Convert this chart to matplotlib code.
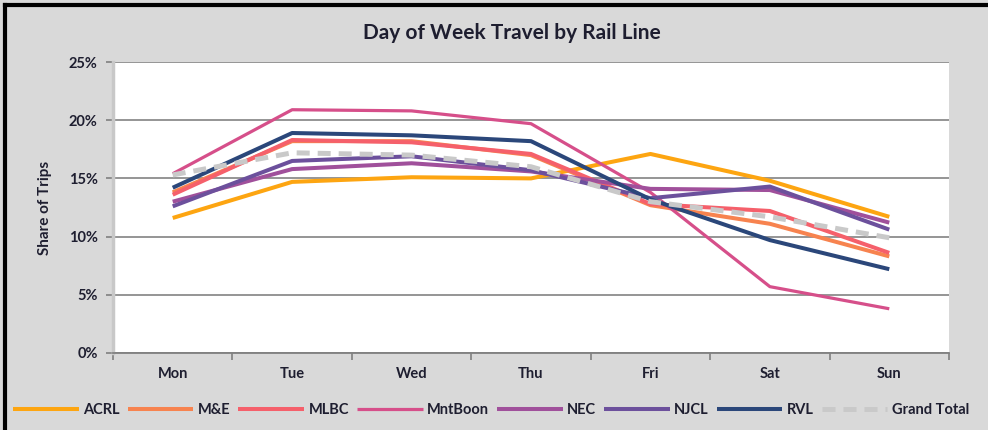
import matplotlib
matplotlib.use("Agg")
import matplotlib.pyplot as plt
from matplotlib.lines import Line2D
from matplotlib.ticker import PercentFormatter

days = ["Mon", "Tue", "Wed", "Thu", "Fri", "Sat", "Sun"]

acrl = [11.6, 14.7, 15.1, 15.0, 17.1, 14.8, 11.7]
m_e = [13.8, 18.2, 18.2, 17.0, 12.7, 11.1, 8.3]
mlbc = [13.6, 18.3, 18.1, 17.1, 12.8, 12.2, 8.6]
mntboon = [15.4, 20.9, 20.8, 19.7, 13.8, 5.7, 3.8]
nec = [13.0, 15.8, 16.3, 15.6, 14.1, 14.0, 11.2]
njcl = [12.6, 16.5, 16.9, 15.7, 13.3, 14.3, 10.6]
rvl = [14.2, 18.9, 18.7, 18.2, 13.2, 9.7, 7.2]
grand_total = [15.3, 17.2, 17.0, 16.0, 13.0, 11.7, 9.9]

series = [
    ("ACRL", acrl, "#FDA511"),
    ("M&E", m_e, "#F7834F"),
    ("MLBC", mlbc, "#F5606B"),
    ("MntBoon", mntboon, "#D64F8A"),
    ("NEC", nec, "#A0509B"),
    ("NJCL", njcl, "#6C509C"),
    ("RVL", rvl, "#2B477A"),
]

plt.rcParams['font.family'] = ['Lato', 'DejaVu Sans']
txt = "#1e1e30"

fig = plt.figure(figsize=(9.88, 4.30), dpi=100, facecolor="#d9d9d9")
ax = fig.add_axes([113 / 988, 1 - 353 / 430, 836 / 988, 291 / 430])
ax.set_facecolor("white")

x = list(range(len(days)))
for name, vals, col in series:
    lw = 2.3 if name == "MntBoon" else 2.9
    ax.plot(x, vals, color=col, lw=lw, label=name, solid_capstyle="butt")
ax.plot(x, grand_total, color="#C9C9C9", lw=3.6, ls=(0, (2.6, 1.6)), label="Grand Total")

ax.set_xlim(-0.5, 6.5)
ax.set_ylim(0, 25)
ax.set_yticks(range(0, 26, 5))
ax.yaxis.set_major_formatter(PercentFormatter(decimals=0))
ax.set_xticks(x)
ax.set_xticklabels(days)
ax.set_xticks([i - 0.5 for i in range(8)], minor=True)
ax.tick_params(axis="x", which="major", length=0, pad=10, labelsize=10.5, labelcolor=txt)
ax.tick_params(axis="x", which="minor", length=5, width=1.2, color="#808080", direction="out")
ax.tick_params(axis="y", length=5, width=1.2, color="#808080", pad=6, labelsize=10.5, labelcolor=txt)
for lab in ax.get_xticklabels() + ax.get_yticklabels():
    lab.set_fontweight("bold")

ax.grid(axis="y", color="#8c8c8c", lw=1.3)
ax.set_axisbelow(True)
for s in ["top", "right"]:
    ax.spines[s].set_visible(False)
ax.spines["left"].set_color("#c8c8c8")
ax.spines["left"].set_linewidth(2.5)
ax.spines["bottom"].set_color("#808080")
ax.spines["bottom"].set_linewidth(1.3)

ax.set_ylabel("Share of Trips", fontsize=11, fontweight="bold", color=txt, labelpad=12)
fig.text(0.518, 1 - 33 / 430, "Day of Week Travel by Rail Line", ha="center", va="center",
         fontsize=15, fontweight="bold", color=txt)

fig.legend(loc="center", bbox_to_anchor=(0.497, 1 - 410 / 430), ncol=8, frameon=False,
           handlelength=4.5, handletextpad=0.3, columnspacing=0.55,
           prop={"size": 10.5, "weight": "bold"}, labelcolor=txt)

# outer frame (top and left edge)
fig.add_artist(Line2D([5 / 988, 5 / 988], [0, 1 - 5 / 430], color="black", lw=3, transform=fig.transFigure))
fig.add_artist(Line2D([5 / 988, 1], [1 - 5 / 430, 1 - 5 / 430], color="black", lw=3, transform=fig.transFigure))

fig.savefig("out.png", dpi=100, facecolor=fig.get_facecolor())
